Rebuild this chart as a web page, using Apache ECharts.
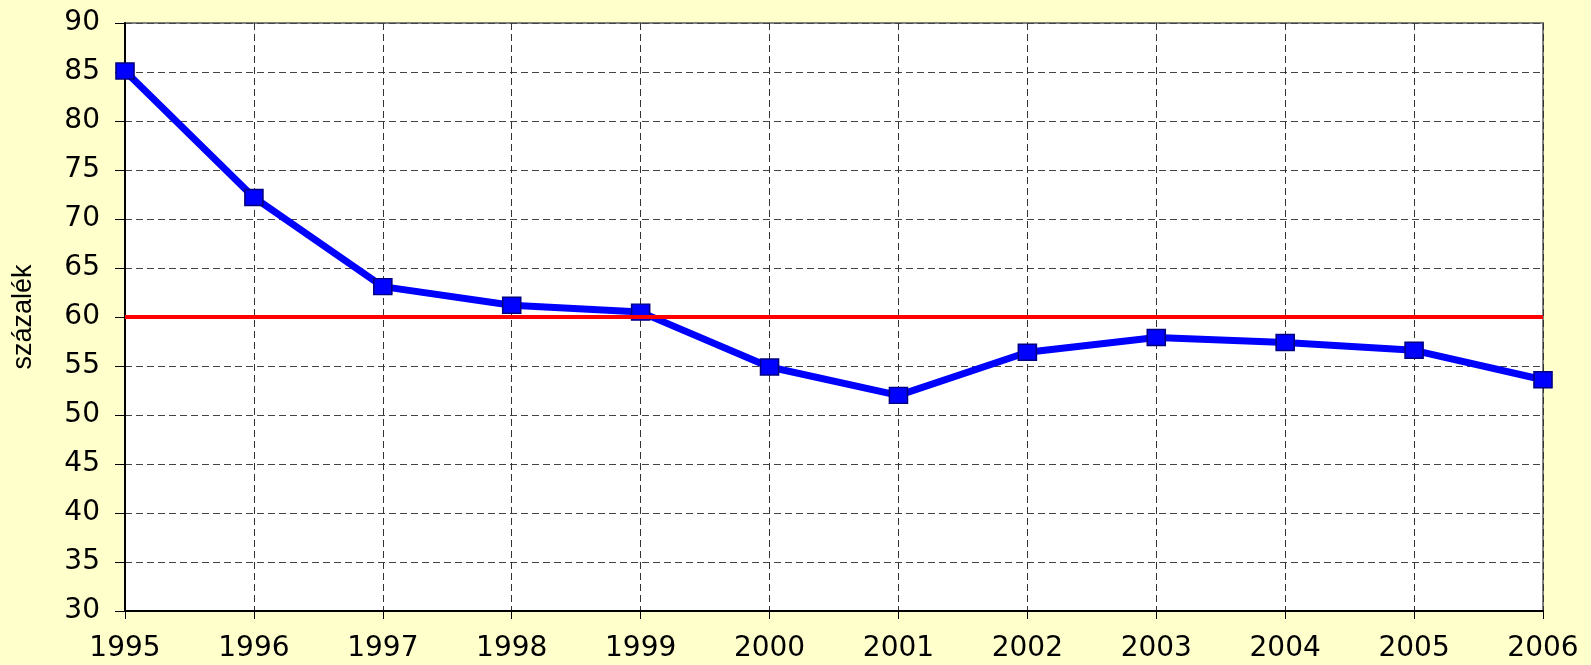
<!DOCTYPE html>
<html>
<head>
<meta charset="utf-8">
<title>százalék 1995-2006</title>
<script src="https://cdn.jsdelivr.net/npm/echarts@6/dist/echarts.min.js"></script>
<style>
  html, body {
    margin: 0;
    padding: 0;
    background: #ffffcc;
  }
  #chart-box {
    width: 1591px;
    height: 665px;
  }
</style>
</head>
<body>
<div id="chart-box"></div>
<script>
// data
const years = ["1995", "1996", "1997", "1998", "1999", "2000", "2001", "2002", "2003", "2004", "2005", "2006"];
const values = [85.1, 72.2, 63.1, 61.2, 60.5, 54.9, 52.0, 56.4, 57.9, 57.4, 56.6, 53.6];
const referenceLevel = [60];
const yTicks = { min: 30, max: 90, interval: 5 };

const chart = echarts.init(document.getElementById("chart-box"));

const labelFont = {
  color: "#000",
  fontFamily: "DejaVu Sans",
  fontSize: 28,
};

const option = {
  animation: false,
  backgroundColor: "#ffffcc",
  grid: {
    left: 125,
    right: 48,
    top: 23,
    bottom: 54,
    show: true,
    backgroundColor: "#ffffff",
    borderColor: "#808080",
    borderWidth: 2,
  },
  xAxis: {
    type: "category",
    data: years,
    boundaryGap: false,
    axisLine: { lineStyle: { color: "#000", width: 2 } },
    axisTick: {
      alignWithLabel: true,
      length: 8,
      lineStyle: { color: "#000", width: 1 },
    },
    axisLabel: Object.assign({ margin: 24, interval: 0 }, labelFont),
    splitLine: {
      show: true,
      lineStyle: { color: "#333", width: 1, type: [7, 4] },
    },
  },
  yAxis: {
    type: "value",
    min: yTicks.min,
    max: yTicks.max,
    interval: yTicks.interval,
    name: "százalék",
    nameLocation: "middle",
    nameRotate: 90,
    nameGap: 88,
    nameTextStyle: {
      color: "#000",
      fontFamily: "Liberation Sans",
      fontSize: 27,
    },
    axisLine: { show: true, lineStyle: { color: "#000", width: 2 } },
    axisTick: { show: true, length: 10, lineStyle: { color: "#000", width: 1 } },
    axisLabel: Object.assign({ margin: 25 }, labelFont),
    splitLine: {
      show: true,
      lineStyle: { color: "#444", width: 1, type: [7, 4] },
    },
  },
  series: [
    {
      // red 60% level, kept under the blue line
      name: "level",
      type: "line",
      data: [],
      z: 1,
      markLine: {
        silent: true,
        symbol: "none",
        label: { show: false },
        lineStyle: { color: "#ff0000", width: 4, type: "solid" },
        data: referenceLevel.map((v) => ({ yAxis: v })),
      },
    },
    {
      name: "százalék",
      type: "line",
      data: values,
      z: 3,
      symbol: "rect",
      symbolSize: [18, 16],
      lineStyle: { color: "#0000ff", width: 7 },
      itemStyle: {
        color: "#0000ff",
        borderColor: "#000080",
        borderWidth: 1.5,
      },
    },
  ],
};

chart.setOption(option);
</script>
</body>
</html>
